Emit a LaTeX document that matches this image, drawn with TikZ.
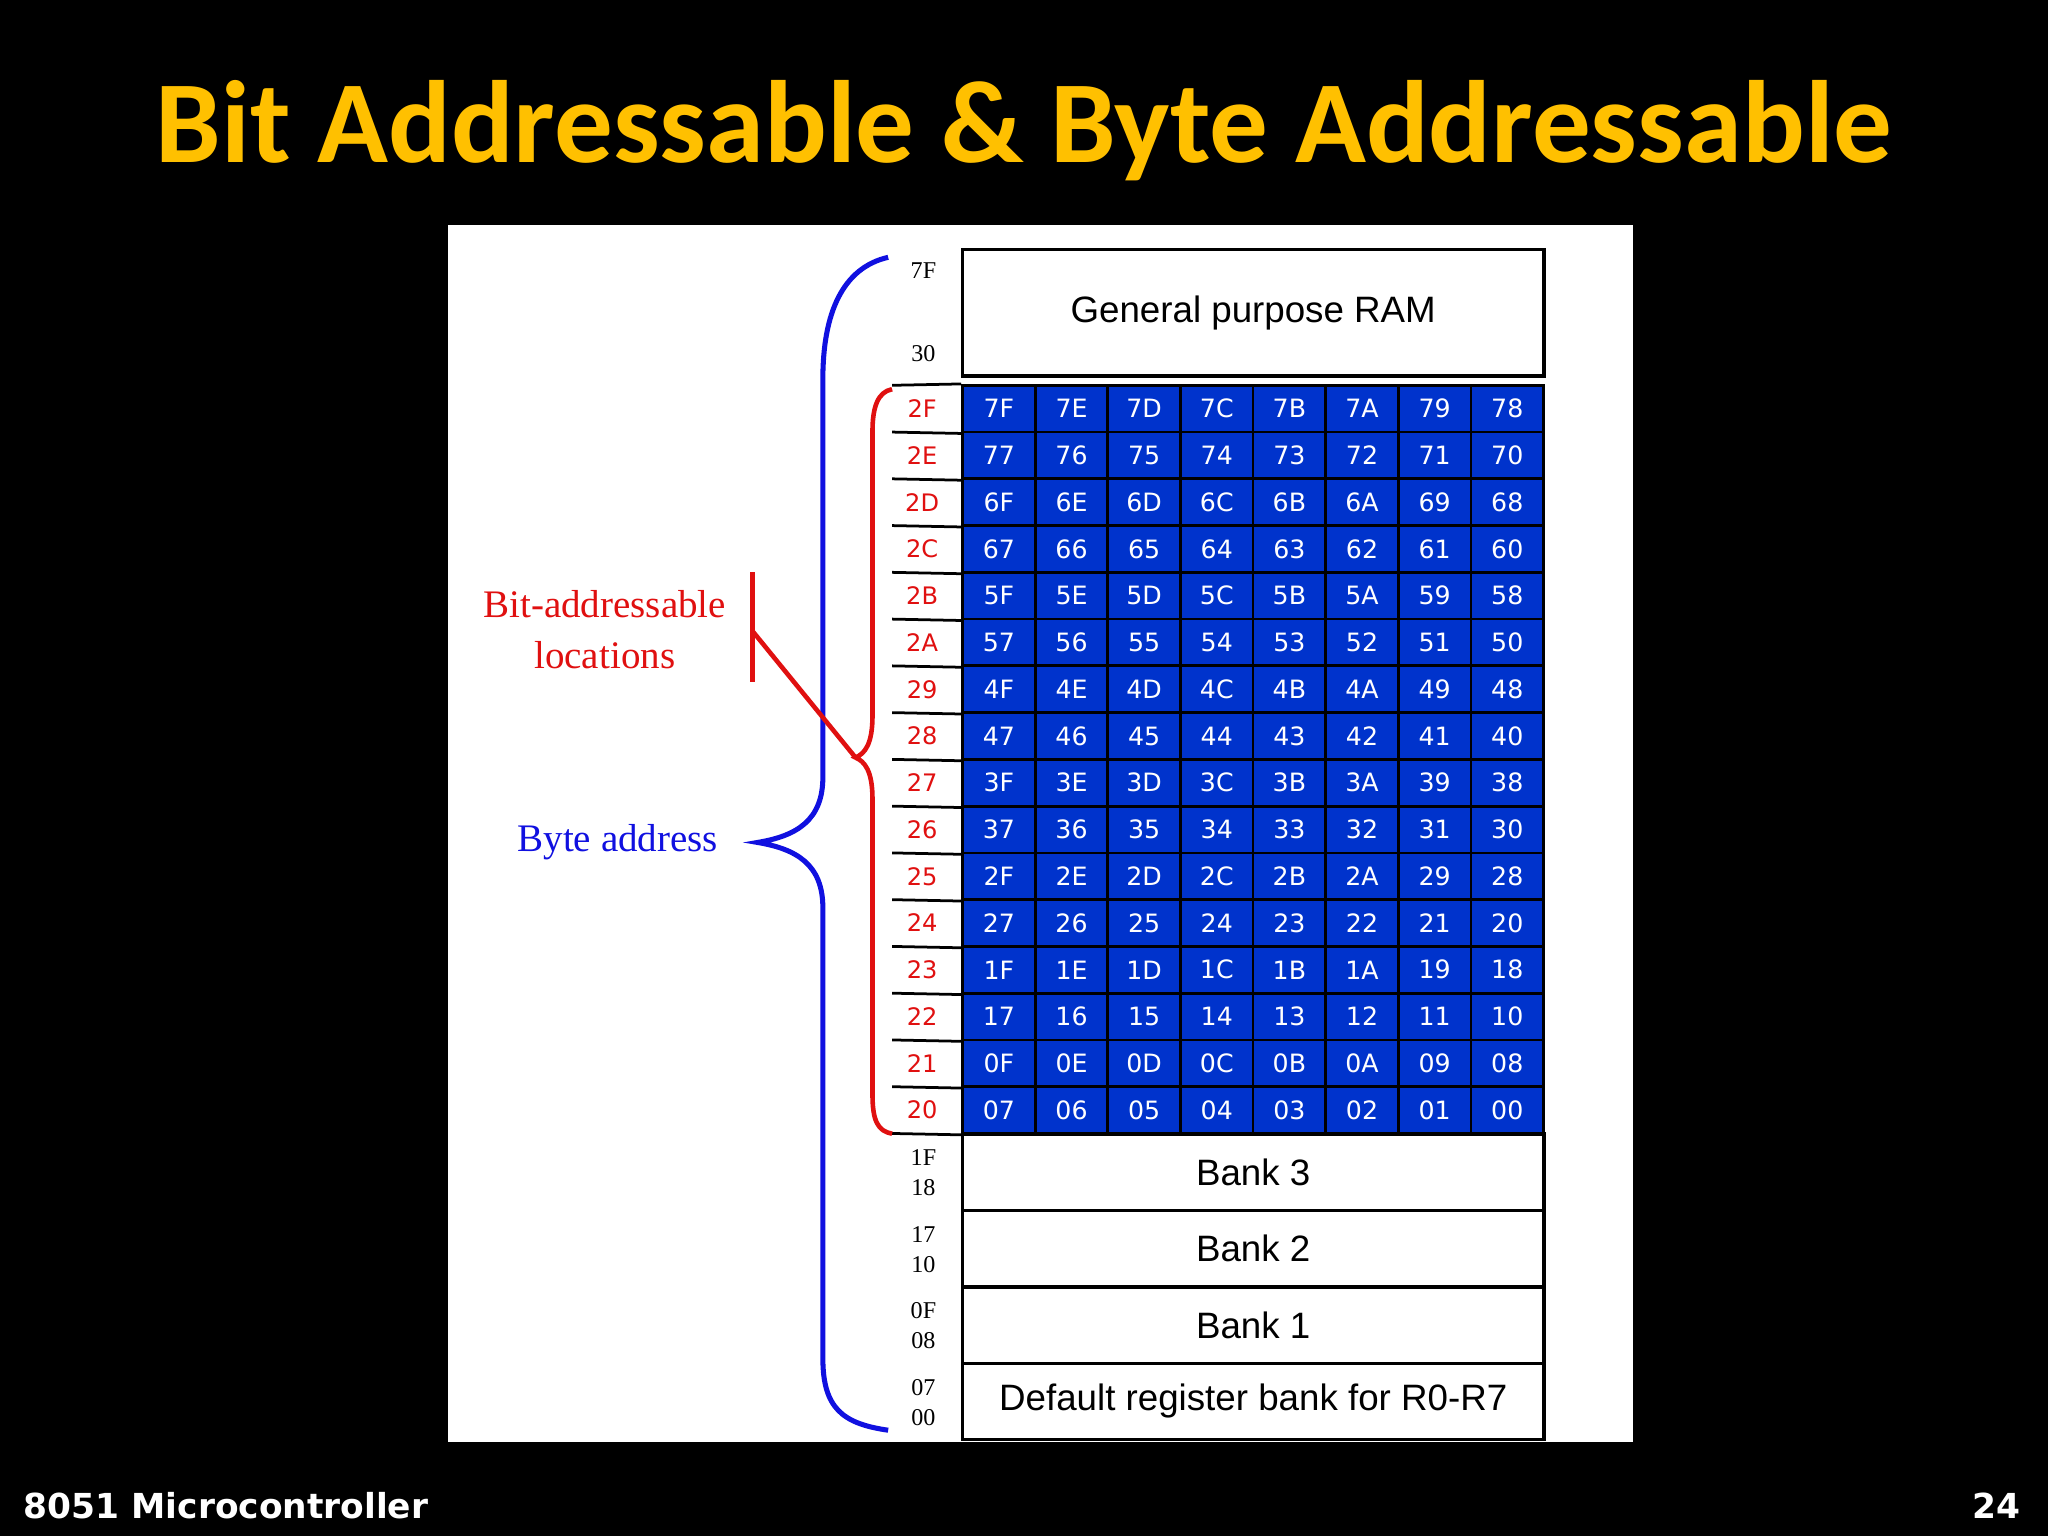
\documentclass[tikz,border=0pt]{standalone}
\usepackage{fontspec}
\setmainfont{Liberation Serif}
\newfontfamily\titlefont{Carlito}
\newfontfamily\cellfont{DejaVu Sans}
\newfontfamily\boxfont{Liberation Sans}
\newfontfamily\footfont{DejaVu Sans}
\definecolor{ttl}{HTML}{FFC000}
\definecolor{cellblue}{HTML}{0033CC}
\definecolor{bbl}{HTML}{1010E0}
\definecolor{rd}{HTML}{E01010}
\begin{document}
\begin{tikzpicture}[x=0.02cm,y=-0.02cm,
  cell/.style={draw=black,line width=1.2pt,fill=cellblue,minimum width=55.6*0.02cm,minimum height=35.8*0.02cm,inner sep=0pt,text=white,font=\cellfont\fontsize{11}{12}\selectfont},
  big/.style={draw=black,line width=1.5pt,fill=white,minimum width=445*0.02cm,inner sep=0pt,font=\boxfont\fontsize{16}{18}\selectfont},
  raddr/.style={text=rd,font=\cellfont\fontsize{10.5}{12}\selectfont},
  baddr/.style={text=black,font=\fontsize{10.5}{12}\selectfont}]
\fill[black] (0,0) rectangle (1568,1176);
\useasboundingbox (0,0) rectangle (1568,1176);
\node[text=ttl,font=\titlefont\bfseries\fontsize{51}{60}\selectfont] (title) at (784,100) {Bit Addressable \& Byte Addressable};
\fill[white] (343,172) rectangle (1250,1104);
% general purpose RAM
\node[big,minimum height=97*0.02cm] (gpr) at (959.5,239.5) {General purpose RAM};
\node[baddr] (a7f) at (707,207) {7F};
\node[baddr] (a30) at (707,271) {30};
% grid
\foreach \addr/\cells [count=\r from 0] in {
 2F/{7F,7E,7D,7C,7B,7A,79,78},2E/{77,76,75,74,73,72,71,70},
 2D/{6F,6E,6D,6C,6B,6A,69,68},2C/{67,66,65,64,63,62,61,60},
 2B/{5F,5E,5D,5C,5B,5A,59,58},2A/{57,56,55,54,53,52,51,50},
 29/{4F,4E,4D,4C,4B,4A,49,48},28/{47,46,45,44,43,42,41,40},
 27/{3F,3E,3D,3C,3B,3A,39,38},26/{37,36,35,34,33,32,31,30},
 25/{2F,2E,2D,2C,2B,2A,29,28},24/{27,26,25,24,23,22,21,20},
 23/{1F,1E,1D,1C,1B,1A,19,18},22/{17,16,15,14,13,12,11,10},
 21/{0F,0E,0D,0C,0B,0A,09,08},20/{07,06,05,04,03,02,01,00}}{
  \foreach \v [count=\c from 0] in \cells {
    \node[cell] (c\r-\c) at ({737+55.6*(\c+0.5)},{295+35.8*(\r+0.5)}) {\v};
  }
  \node[raddr] (r\r) at (706,{295+35.8*(\r+0.5)}) {\addr};
  \coordinate (ls\r) at (683,{295+35.8*(\r+1)});
  \draw[line width=1.2pt] (ls\r) -- (c\r-0.south west);
}
\coordinate (lt) at (683,295);
\draw[line width=1.2pt] (lt) -- (c0-0.north west);
% banks
\foreach \t/\y/\hi/\lo [count=\i] in {Bank 3/897.5/1F/18,Bank 2/956/17/10,Bank 1/1014.5/0F/08,Default register bank for R0-R7/1073/07/00}{
  \node[big,minimum height=58.5*0.02cm] (bank\i) at (959.5,\y) {\t};
  \node[baddr] (hi\i) at (707,\y-11) {\hi};
  \node[baddr] (lo\i) at (707,\y+12) {\lo};
}
% blue brace
\coordinate (bt) at (680,197); \coordinate (btip) at (580,645); \coordinate (bb) at (680,1095);
\draw[bbl,line width=2.2pt] (bt) .. controls (645,205) and (630,240) .. (630,290) -- (630,595)
  .. controls (630,628) and (610,640) .. (btip) .. controls (610,650) and (630,662) .. (630,695)
  -- (630,1040) .. controls (630,1078) and (645,1090) .. (bb);
\node[text=bbl,font=\fontsize{17}{20}\selectfont] (byte) at (473,645) {Byte address};
% red brace
\coordinate (rt) at (683,298); \coordinate (rtip) at (655,580); \coordinate (rb) at (683,868);
\draw[rd,line width=2pt] (rt) .. controls (672,300) and (668,312) .. (668,330) -- (668,548)
  .. controls (668,570) and (662,577) .. (rtip) .. controls (662,583) and (668,590) .. (668,612)
  -- (668,838) .. controls (668,858) and (672,866) .. (rb);
\node[text=rd,font=\fontsize{17}{20}\selectfont,align=center] (bitlab) at (463,482) {Bit-addressable\\[2pt]locations};
\coordinate (vt) at (576,438); \coordinate (vb) at (576,522); \coordinate (vm) at (576,483);
\draw[rd,line width=2pt] (vt) -- (vb);
\draw[rd,line width=2pt] (vm) -- (rtip);
% footer
\node[anchor=west,text=white,font=\footfont\bfseries\fontsize{15}{18}\selectfont] (foot) at (12,1153) {8051 Microcontroller};
\node[anchor=east,text=white,font=\footfont\bfseries\fontsize{15}{18}\selectfont] (pg) at (1553,1153) {24};
\end{tikzpicture}
\end{document}
